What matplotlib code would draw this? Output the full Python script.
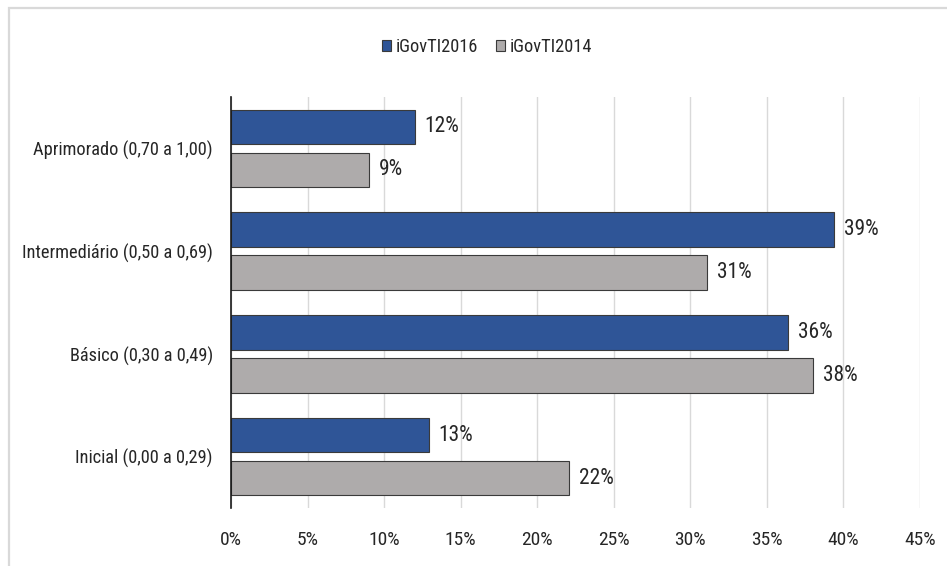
import matplotlib
matplotlib.use("Agg")
import matplotlib.pyplot as plt
from matplotlib.patches import Patch, Rectangle
from matplotlib import font_manager
import numpy as np

# Maturity bands (bottom to top) and share of organisations in each
categories = [
    "Inicial (0,00 a 0,29)",
    "Básico (0,30 a 0,49)",
    "Intermediário (0,50 a 0,69)",
    "Aprimorado (0,70 a 1,00)",
]
igovti_2016 = [12.9, 36.4, 39.4, 12.0]
igovti_2014 = [22.1, 38.0, 31.1, 9.0]
series_names = ["iGovTI2016", "iGovTI2014"]
x_ticks = [0, 5, 10, 15, 20, 25, 30, 35, 40, 45]

available = {f.name for f in font_manager.fontManager.ttflist}
family = None
for cand in ["Liberation Sans Narrow", "Roboto Condensed", "Open Sans", "Liberation Sans"]:
    if cand in available:
        family = cand
        break
plt.rcParams["font.family"] = [family, "DejaVu Sans"] if family else ["DejaVu Sans"]

FS_CAT = 13.2
FS_TICK = 14
FS_VAL = 15.5
FS_LEG = 13.2
TXT = "#262626"
BLUE = "#2F5597"
GRAY = "#AEABAB"
EDGE = "#3A3A3A"

W, H = 947, 566
fig = plt.figure(figsize=(W / 100, H / 100), dpi=100)
ax = fig.add_axes([231 / W, 1 - 508 / H, (920 - 231) / W, (508 - 97) / H])

# Outer chart frame
fig.patches.append(Rectangle((9 / W, -0.1), 1.2, 1 - 8 / H + 0.1, transform=fig.transFigure,
                             fill=False, edgecolor="#D9D9D9", linewidth=1.6, zorder=0))

y = np.arange(len(categories))
off, h = 0.21, 0.336
b1 = ax.barh(y + off, igovti_2016, height=h, color=BLUE, edgecolor=EDGE, linewidth=0.8, zorder=3)
b2 = ax.barh(y - off, igovti_2014, height=h, color=GRAY, edgecolor=EDGE, linewidth=0.8, zorder=3)

for bars, vals in ((b1, igovti_2016), (b2, igovti_2014)):
    for bar, v in zip(bars, vals):
        ax.text(v + 0.65, bar.get_y() + bar.get_height() / 2, f"{round(v):.0f}%",
                ha="left", va="center", fontsize=FS_VAL, color=TXT)

ax.set_xlim(0, 45)
ax.set_ylim(-0.5, 3.5)
ax.set_xticks(x_ticks)
ax.set_xticklabels([f"{t}%" for t in x_ticks])
ax.set_yticks(y)
ax.set_yticklabels(categories)
ax.tick_params(axis="x", length=0, pad=16.5, labelsize=FS_TICK, labelcolor=TXT)
ax.tick_params(axis="y", length=0, pad=13, labelsize=FS_CAT, labelcolor=TXT)
ax.grid(axis="x", color="#D9D9D9", linewidth=1.0, zorder=0)
ax.set_axisbelow(True)
for s in ("top", "right", "bottom"):
    ax.spines[s].set_visible(False)
ax.spines["left"].set_color("#1A1A1A")
ax.spines["left"].set_linewidth(1.2)
ax.spines["left"].set_zorder(4)

handles = [Patch(facecolor=BLUE, edgecolor=EDGE, linewidth=0.8),
           Patch(facecolor=GRAY, edgecolor=EDGE, linewidth=0.8)]
fig.legend(handles, series_names, loc="center", bbox_to_anchor=(487 / W, 1 - 47 / H),
           ncol=2, frameon=False, fontsize=FS_LEG, handlelength=0.5, handleheight=0.62,
           handletextpad=0.25, columnspacing=1.0, labelcolor=TXT)

fig.savefig("out.png", dpi=100)
